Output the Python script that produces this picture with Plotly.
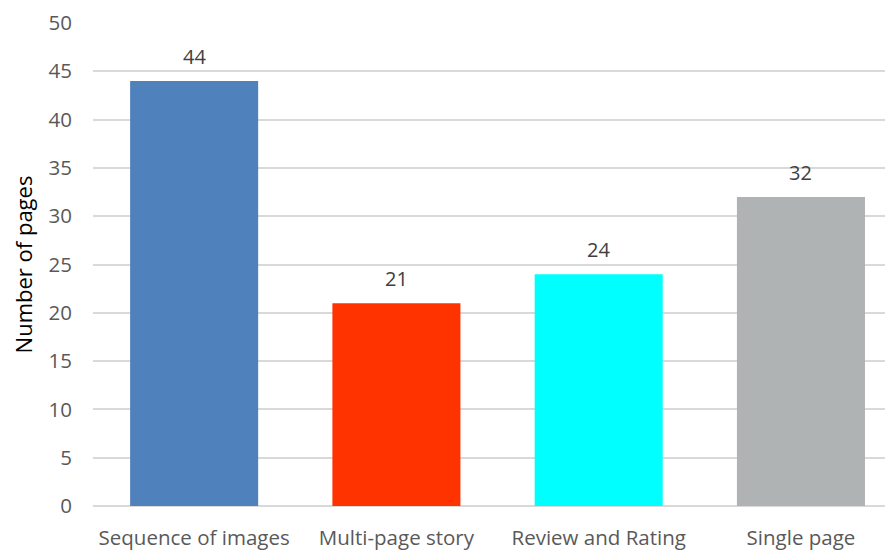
import plotly.graph_objects as go

categories = ["Sequence of images", "Multi-page story", "Review and Rating", "Single page"]
values = [44, 21, 24, 32]
colors = ["#4F81BD", "#FF3300", "#00FFFF", "#AFB3B3"]
y_ticks = [0, 5, 10, 15, 20, 25, 30, 35, 40, 45, 50]

FONT = "Open Sans"

fig = go.Figure()
fig.add_trace(go.Bar(
    x=categories, y=values, marker=dict(color=colors, line=dict(width=0)),
    width=0.633, showlegend=False, hoverinfo="x+y",
))

for c, v in zip(categories, values):
    fig.add_annotation(x=c, y=v, text=str(v), showarrow=False, yanchor="bottom",
                       yshift=9, font=dict(family=FONT, size=20, color="#404040"))

fig.update_layout(
    width=893, height=552,
    margin=dict(l=85, r=8, t=15, b=54),
    paper_bgcolor="white", plot_bgcolor="white",
    font=dict(family=FONT, size=20, color="#595959"),
    bargap=0.367,
    xaxis=dict(
        range=[-0.5, 3.455], showgrid=False, showline=False, zeroline=False,
        tickfont=dict(family=FONT, size=20.5, color="#595959"),
        ticks="", ticklabelstandoff=17, automargin=False,
    ),
    yaxis=dict(
        range=[0, 50], tickvals=y_ticks, showgrid=True, gridcolor="#D9D9D9", gridwidth=2,
        zeroline=True, zerolinecolor="#D9D9D9", zerolinewidth=2, showline=False,
        tickfont=dict(family=FONT, size=20.5, color="#595959"), ticks="",
        ticklabelstandoff=20, ticklabeloverflow="allow", automargin=False,
        title=dict(text="Number of pages", font=dict(family=FONT, size=22, color="#000000"), standoff=12),
    ),
)

fig.write_html("out.html")
